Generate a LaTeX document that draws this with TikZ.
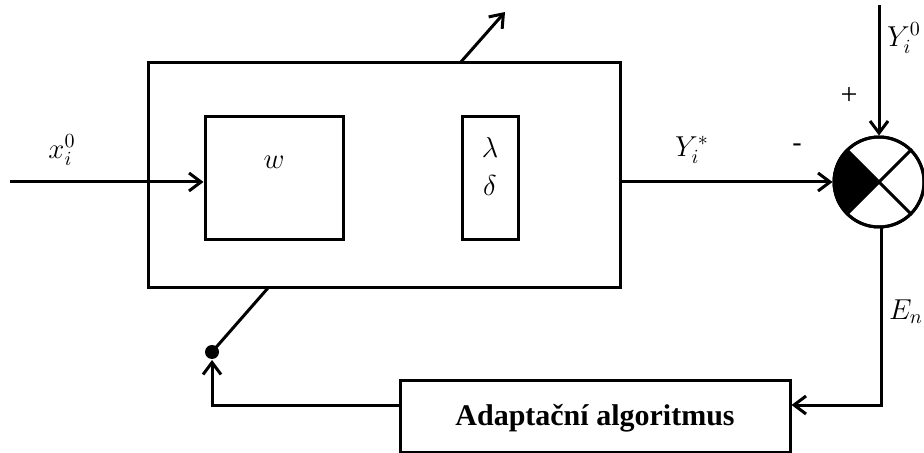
\documentclass[tikz,border=0pt]{standalone}
\usepackage{fontspec}
\setmainfont{Liberation Serif}
\usetikzlibrary{arrows.meta}
\begin{document}
\begin{tikzpicture}[x=0.5pt,y=-0.5pt,
  ln/.style={line width=1.5pt},
  arr/.style={ln,-{Straight Barb[length=6pt,width=9pt,line width=1.5pt]}},
  box/.style={draw,line width=1.5pt,inner sep=0pt},
  lab/.style={inner sep=0pt,font=\fontsize{14}{16}\selectfont}]
\useasboundingbox (0,0) rectangle (924,453);
\node[box,minimum width=236pt,minimum height=112.5pt] (outer) at (384,175.5) {};
\node[box,minimum width=69pt,minimum height=61.5pt] (w) at (274,178.5) {};
\node[lab] at (274,162) {$w$};
\node[box,minimum width=28pt,minimum height=61.5pt] (ld) at (490,178.5) {};
\node[lab,align=center] at (490,167) {$\lambda$\\[3pt]$\delta$};
\node[box,minimum width=195pt,minimum height=36pt] (alg) at (595,416) {};
\node[font=\bfseries\fontsize{15}{17}\selectfont] at (595,418) {Adaptační algoritmus};
% summing junction
\node[draw,circle,line width=1.5pt,minimum size=45pt,inner sep=0pt] (s) at (879,182) {};
\fill (s.center) -- (s.135) arc (135:225:22.5pt) -- cycle;
\draw[ln] (s.45) -- (s.225) (s.135) -- (s.315);
\draw[ln] (s) circle (22.5pt);
% coordinates
\coordinate (in) at (10,182);
\coordinate (y0) at (879,5);
\coordinate (top) at (505,12);
\coordinate (topb) at (460,63);
\coordinate (dot) at (212,352);
\coordinate (bot) at (268,288);
\coordinate (encorner) at (881,405);
\coordinate (lcorner) at (212,405);
% connectors
\draw[arr] (in) -- (w.west |- in);
\draw[arr] (outer.east |- s.west) -- (s.west);
\draw[arr] (y0) -- (s.north);
\draw[arr] (topb) -- (top);
\draw[arr] (s.south -| encorner) -- (encorner) -- (alg.east |- encorner);
\draw[arr] (alg.west |- lcorner) -- (lcorner) -- ([yshift=-4pt]dot);
\draw[ln] (dot) -- (bot);
\fill (dot) circle (3.5pt);
% labels
\node[lab] at (62,150) {$x_i^0$};
\node[lab] at (692,150) {$Y_i^*$};
\node[lab] at (797,148) {-};
\node[lab,font=\fontsize{15}{17}\selectfont] at (849,96) {+};
\node[lab] at (904,38) {$Y_i^0$};
\node[lab] at (906,312) {$E_n$};
\end{tikzpicture}
\end{document}
